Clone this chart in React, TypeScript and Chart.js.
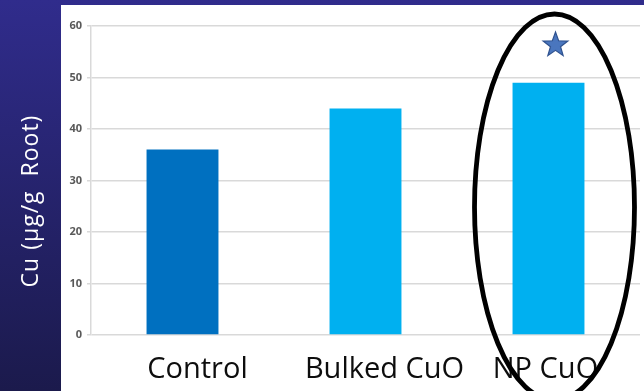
import { useEffect, useRef } from "react";
import { Chart, registerables } from "chart.js";

Chart.register(...registerables);

// Root copper content per treatment
const categories = ["Control", "Bulked CuO", "NP CuO"];
const cuValues = [36, 44, 49];
const yMin = 0;
const yMax = 60;
const yStep = 10;
const axisTitle = "Cu (µg/g  Root)";

// Treatment marked as significant (star + ring)
const significantIndex = 2;
const starValue = 56.3;

// Styling
const barColors = ["#0070C0", "#00B0F0", "#00B0F0"];
const labelNudge = [15, 19, -3];
const W = 644;
const H = 391;

const decorations = {
  id: "decorations",
  beforeDraw(chart: any) {
    const { ctx } = chart;
    ctx.save();
    const g = ctx.createLinearGradient(0, 0, 0, H);
    g.addColorStop(0, "#302C8C");
    g.addColorStop(1, "#1B1A4C");
    ctx.fillStyle = g;
    ctx.fillRect(0, 0, W, H);
    ctx.fillStyle = "#FFFFFF";
    ctx.fillRect(61, 5, W - 61, H - 5);
    ctx.restore();
  },
  afterDraw(chart: any) {
    const { ctx, chartArea } = chart;
    const xs = chart.scales.x;
    const ys = chart.scales.y;
    ctx.save();

    // category labels
    ctx.font = "29px 'Open Sans'";
    ctx.fillStyle = "#0D0D0D";
    ctx.textAlign = "center";
    ctx.textBaseline = "alphabetic";
    categories.forEach((c, i) => {
      ctx.fillText(c, xs.getPixelForValue(i) + labelNudge[i], 378);
    });

    // rotated axis title
    ctx.save();
    ctx.translate(31, 201);
    ctx.rotate(-Math.PI / 2);
    ctx.font = "23px 'Open Sans'";
    (ctx as any).letterSpacing = "1px";
    ctx.fillStyle = "#FFFFFF";
    ctx.textAlign = "center";
    ctx.textBaseline = "middle";
    ctx.fillText(axisTitle, 0, 0);
    ctx.restore();

    // significance star
    const sx = xs.getPixelForValue(significantIndex) + 7;
    const sy = ys.getPixelForValue(starValue);
    const ro = 13;
    const ri = 5.3;
    ctx.beginPath();
    for (let k = 0; k < 10; k++) {
      const r = k % 2 === 0 ? ro : ri;
      const a = -Math.PI / 2 + (k * Math.PI) / 5;
      const px = sx + r * Math.cos(a);
      const py = sy + r * Math.sin(a);
      if (k === 0) ctx.moveTo(px, py);
      else ctx.lineTo(px, py);
    }
    ctx.closePath();
    ctx.fillStyle = "#4A76BE";
    ctx.fill();
    ctx.lineWidth = 1.2;
    ctx.strokeStyle = "#2F528F";
    ctx.stroke();

    // ring around the highlighted column
    const ex = xs.getPixelForValue(significantIndex) + 6;
    const ey = chartArea.top + 181;
    ctx.beginPath();
    ctx.ellipse(ex, ey, 80, 193, 0, 0, Math.PI * 2);
    ctx.lineWidth = 4.8;
    ctx.strokeStyle = "#000000";
    ctx.stroke();

    ctx.restore();
  },
};

export default function App() {
  const ref = useRef<HTMLCanvasElement>(null);

  useEffect(() => {
    if (!ref.current) return;
    const chart = new Chart(ref.current, {
      type: "bar",
      data: {
        labels: categories,
        datasets: [
          {
            data: cuValues,
            backgroundColor: barColors,
            borderWidth: 0,
            barPercentage: 0.393,
            categoryPercentage: 1,
          },
        ],
      },
      options: {
        responsive: false,
        animation: false,
        layout: { padding: { left: 61, top: 26, right: 4, bottom: 56 } },
        plugins: {
          legend: { display: false },
          tooltip: { enabled: false },
        },
        scales: {
          x: { display: false },
          y: {
            min: yMin,
            max: yMax,
            afterFit: (s: any) => {
              s.width = 30;
            },
            ticks: {
              stepSize: yStep,
              padding: 5,
              color: "#595959",
              font: { family: "'Open Sans'", size: 11, weight: "bold" },
            },
            grid: { color: "#D9D9D9", lineWidth: 1.5, tickLength: 4 },
            border: { display: true, color: "#D9D9D9", width: 1.5 },
          },
        },
      },
      plugins: [decorations],
    });
    return () => chart.destroy();
  }, []);

  return (
    <div style={{ position: "fixed", left: 0, top: 0, width: W, height: H }}>
      <canvas ref={ref} width={W} height={H} style={{ display: "block" }} />
    </div>
  );
}
